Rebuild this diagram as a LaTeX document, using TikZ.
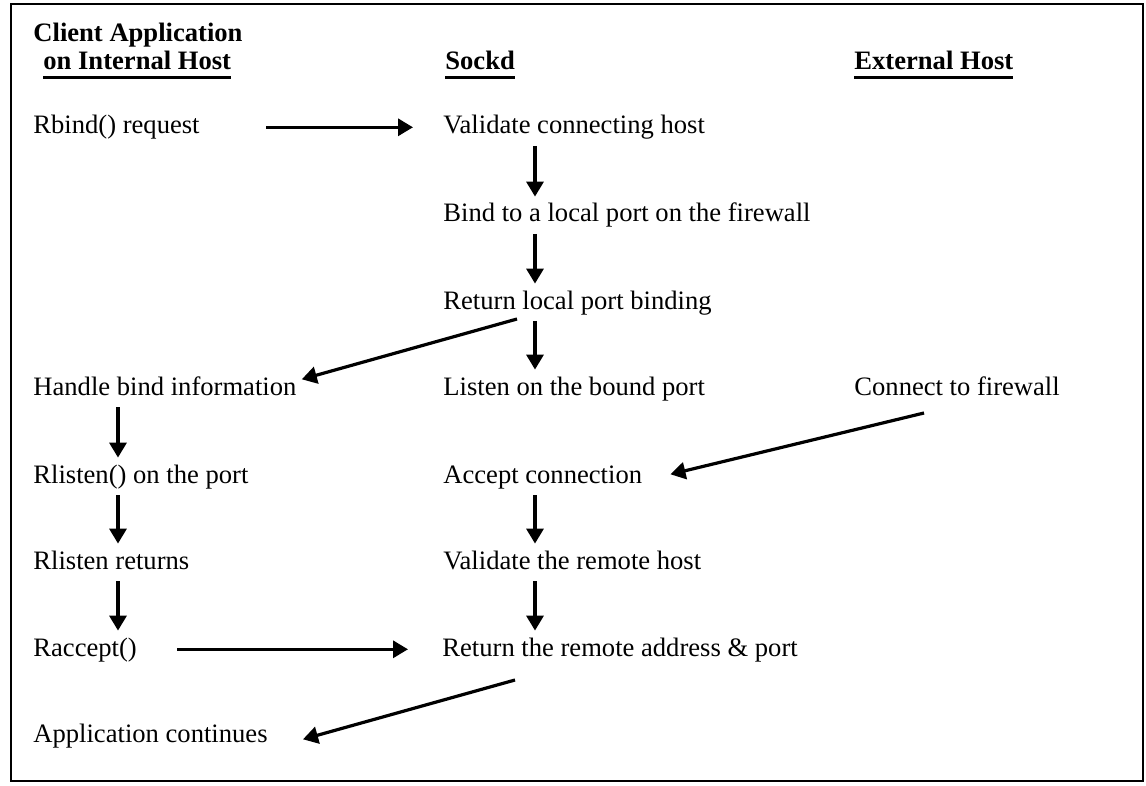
\documentclass[tikz,border=0pt]{standalone}
\usepackage{fontspec}
\setmainfont{Liberation Serif}
\usetikzlibrary{arrows.meta}

\newcommand{\hdrul}[1]{\leavevmode\setbox0\hbox{#1}\rlap{\rule[-4.5pt]{\wd0}{1.3pt}}\box0}

\begin{document}
\begin{tikzpicture}[x=0.5pt,y=-0.5pt]
    \tikzstyle{stage}=[anchor=base west, inner xsep=0pt, inner ysep=2.5pt, text height=10pt, text depth=3.3pt, font=\fontsize{13.3pt}{16pt}\selectfont]
    \tikzstyle{head}=[stage, font=\fontsize{13.3pt}{16pt}\selectfont\bfseries]
    \tikzstyle{flow}=[-{Triangle[length=7.5pt,width=8.5pt]}, line width=1.6pt]

    \useasboundingbox (0,0) rectangle (1146,786);
    \draw[line width=1.4pt] (11,4) rectangle (1143,781);

    % Column headings
    \node[head] (C-0) at (33,42) {Client Application};
    \node[head] (C-h) at (43,70) {\hdrul{on Internal Host}};
    \node[head] (S-h) at (445,70) {\hdrul{Sockd}};
    \node[head] (E-h) at (854,70) {\hdrul{External Host}};

    % Client application steps
    \node[stage] (C-1) at (33,134) {Rbind() request};
    \node[stage] (C-2) at (33,395) {Handle bind information};
    \node[stage] (C-3) at (33,483) {Rlisten() on the port};
    \node[stage] (C-4) at (33,569) {Rlisten returns};
    \node[stage] (C-5) at (33,656) {Raccept()};
    \node[stage] (C-6) at (33,742) {Application continues};

    % Sockd steps
    \node[stage] (S-1) at (443,134) {Validate connecting host};
    \node[stage] (S-2) at (443,222) {Bind to a local port on the firewall};
    \node[stage] (S-3) at (443,309) {Return local port binding};
    \node[stage] (S-4) at (443,395) {Listen on the bound port};
    \node[stage] (S-5) at (443,483) {Accept connection};
    \node[stage] (S-6) at (443,569) {Validate the remote host};
    \node[stage] (S-7) at (442,656) {Return the remote address \& port};

    % External host
    \node[stage] (E-1) at (854,395) {Connect to firewall};

    \coordinate (cx) at (118,0);
    \coordinate (sx) at (535,0);

    % Sockd column
    \draw[flow] (S-1.south -| sx) -- (S-2.north -| sx);
    \draw[flow] (S-2.south -| sx) -- (S-3.north -| sx);
    \draw[flow] (S-3.south -| sx) -- (S-4.north -| sx);
    \draw[flow] (S-5.south -| sx) -- (S-6.north -| sx);
    \draw[flow] (S-6.south -| sx) -- (S-7.north -| sx);
    % client column
    \draw[flow] (C-2.south -| cx) -- (C-3.north -| cx);
    \draw[flow] (C-3.south -| cx) -- (C-4.north -| cx);
    \draw[flow] (C-4.south -| cx) -- (C-5.north -| cx);
    % across the columns
    \draw[flow, shorten <=33pt, shorten >=15pt] (C-1.east) -- (S-1.west);
    \draw[flow] ([shift={(37pt,1pt)}]S-3.south west) -- ([shift={(2.5pt,4.5pt)}]C-2.east);
    \draw[flow] ([shift={(35pt,-3pt)}]E-1.south west) -- ([shift={(14pt,1pt)}]S-5.east);
    \draw[flow, shorten <=20pt, shorten >=17pt] (C-5.east) -- (S-7.west);
    \draw[flow] ([shift={(36.5pt,-6pt)}]S-7.south west) -- ([shift={(17.5pt,-2pt)}]C-6.east);
\end{tikzpicture}
\end{document}
